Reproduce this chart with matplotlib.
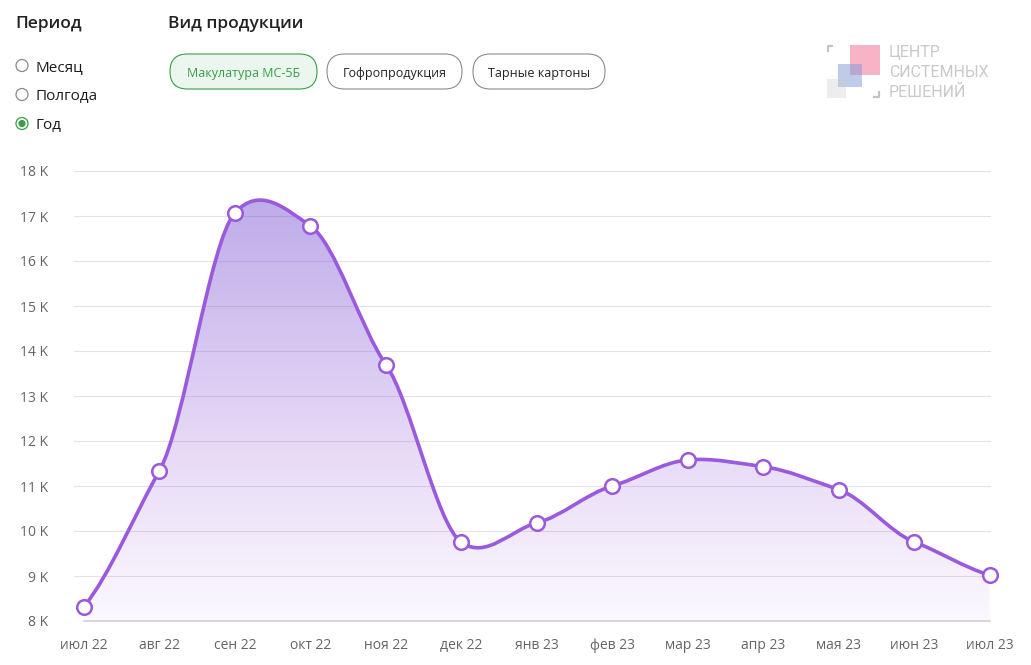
import numpy as np
import matplotlib
matplotlib.use('Agg')
import matplotlib.pyplot as plt
from matplotlib.patches import Circle, FancyBboxPatch, PathPatch, Rectangle
from matplotlib.path import Path

plt.rcParams['font.family'] = ['Open Sans', 'DejaVu Sans']

months = ['июл 22', 'авг 22', 'сен 22', 'окт 22', 'ноя 22', 'дек 22', 'янв 23',
          'фев 23', 'мар 23', 'апр 23', 'мая 23', 'июн 23', 'июл 23']
values = [8.32, 11.34, 17.07, 16.78, 13.70, 9.75, 10.18, 11.00, 11.58, 11.43, 10.92, 9.76, 9.02]
y_ticks = [8, 9, 10, 11, 12, 13, 14, 15, 16, 17, 18]
y_labels = [f'{v} K' for v in y_ticks]
period_options = ['Месяц', 'Полгода', 'Год']
product_options = ['Макулатура МС-5Б', 'Гофропродукция', 'Тарные картоны']
logo_lines = ['ЦЕНТР', 'СИСТЕМНЫХ', 'РЕШЕНИЙ']

LINE = '#9b59dd'
GREEN = '#3a9d48'
W, H = 1031, 665

fig = plt.figure(figsize=(W / 100, H / 100), dpi=100, facecolor='white')

# chart axes, placed in pixels
ax = fig.add_axes([74 / W, 1 - 621 / H, (991 - 74) / W, 450 / H])
x = np.arange(len(values))
y = np.array(values)
xlim = (-10 / 75.46, len(values) - 1 + 1.5 / 75.46)
ax.set_xlim(xlim)
ax.set_ylim(8, 18)
for s in ax.spines.values():
    s.set_visible(False)
ax.set_yticks(y_ticks, y_labels)
ax.set_xticks(x, months)
ax.tick_params(axis='y', length=0, pad=18.5, labelsize=10, labelcolor='#666666')
ax.tick_params(axis='x', length=0, pad=12, labelsize=10, labelcolor='#666666')
ax.grid(axis='y', color='#e4e2e6', lw=0.8)
ax.set_axisbelow(True)

# smooth curve through the points, bezier segments
tension = 0.68
tang = np.gradient(y) * tension
tang[1:-1] = (y[2:] - y[:-2]) / 2 * tension
verts = [(x[0], y[0])]
codes = [Path.MOVETO]
for i in range(len(x) - 1):
    verts += [(x[i] + 1 / 3, y[i] + tang[i] / 3),
              (x[i + 1] - 1 / 3, y[i + 1] - tang[i + 1] / 3),
              (x[i + 1], y[i + 1])]
    codes += [Path.CURVE4] * 3
curve = Path(verts, codes)

# gradient fill under the curve
fill_path = Path(verts + [(x[-1], 8), (x[0], 8), (x[0], y[0])],
                 codes + [Path.LINETO, Path.LINETO, Path.CLOSEPOLY])
n = 256
t = np.linspace(0, 1, n)
grad = np.zeros((n, 1, 4))
grad[:, 0, 0] = 0.46 + 0.16 * t
grad[:, 0, 1] = 0.33 + 0.03 * t
grad[:, 0, 2] = 0.82 + 0.05 * t
grad[:, 0, 3] = 0.50 - 0.46 * t
im = ax.imshow(grad, extent=(x[0], x[-1], 8, 17.6), aspect='auto', origin='upper', zorder=2)
im.set_clip_path(PathPatch(fill_path, transform=ax.transData))
ax.set_xlim(xlim)
ax.set_ylim(8, 18)

ax.plot([x[0], x[-1]], [8, 8], color='#cfcdd3', lw=1.1, zorder=3, clip_on=False)
ax.add_patch(PathPatch(curve, fill=False, edgecolor=LINE, lw=2.6, zorder=4, capstyle='round'))
ax.plot(x, y, ls='none', marker='o', ms=10.5, mfc='white', mec=LINE, mew=1.8, zorder=5, clip_on=False)

# controls and logo, drawn in pixel coordinates
ui = fig.add_axes([0, 0, 1, 1], facecolor='none')
ui.set_xlim(0, W)
ui.set_ylim(H, 0)
ui.axis('off')

ui.text(15.5, 28, 'Период', fontsize=12.5, fontweight='semibold', color='#222222', va='baseline')
ui.text(168.5, 28, 'Вид продукции', fontsize=12.5, fontweight='semibold', color='#222222', va='baseline')

for i, label in enumerate(period_options):
    cy = 65.5 + i * 29
    selected = label == 'Год'
    ui.add_patch(Circle((22, cy), 6, fc='white', ec=GREEN if selected else '#8a8a8a', lw=0.9))
    if selected:
        ui.add_patch(Circle((22, cy), 3.6, fc=GREEN, ec='none'))
    ui.text(35.5, 71 + i * 29, label, fontsize=11, color='#1c1c1c', va='baseline')

pill_left = [170, 327, 473]
pill_right = [317, 462, 605]
for i, label in enumerate(product_options):
    active = i == 0
    ui.add_patch(FancyBboxPatch((pill_left[i] + 17.5, 71.5 - 0.01), pill_right[i] - pill_left[i] - 35, 0.02,
                                boxstyle='round,pad=17.5,rounding_size=17.5',
                                fc='#ebf7ee' if active else 'white',
                                ec=GREEN if active else '#8c8c8c', lw=0.8))
    ui.text((pill_left[i] + pill_right[i]) / 2, 77, label, fontsize=9, ha='center', va='baseline',
            color=GREEN if active else '#222222')

ui.add_patch(Rectangle((850, 45), 30, 30, fc='#f8b4c6', ec='none'))
ui.add_patch(Rectangle((838, 64), 24, 23, fc='#7f9bd6', ec='none', alpha=0.5))
ui.add_patch(Rectangle((827, 79), 19, 19, fc='#cccccc', ec='none', alpha=0.35))
ui.plot([828, 828, 833], [52, 46, 46], color='#c4c4c4', lw=1.6, solid_capstyle='butt')
ui.plot([873, 879, 879], [97, 97, 91], color='#c4c4c4', lw=1.6, solid_capstyle='butt')
for i, line in enumerate(logo_lines):
    ui.text(889, 57 + i * 20, line, fontsize=11.5, family='Roboto', color='#c9c9c9', va='baseline')

fig.savefig('out.png', dpi=100)
